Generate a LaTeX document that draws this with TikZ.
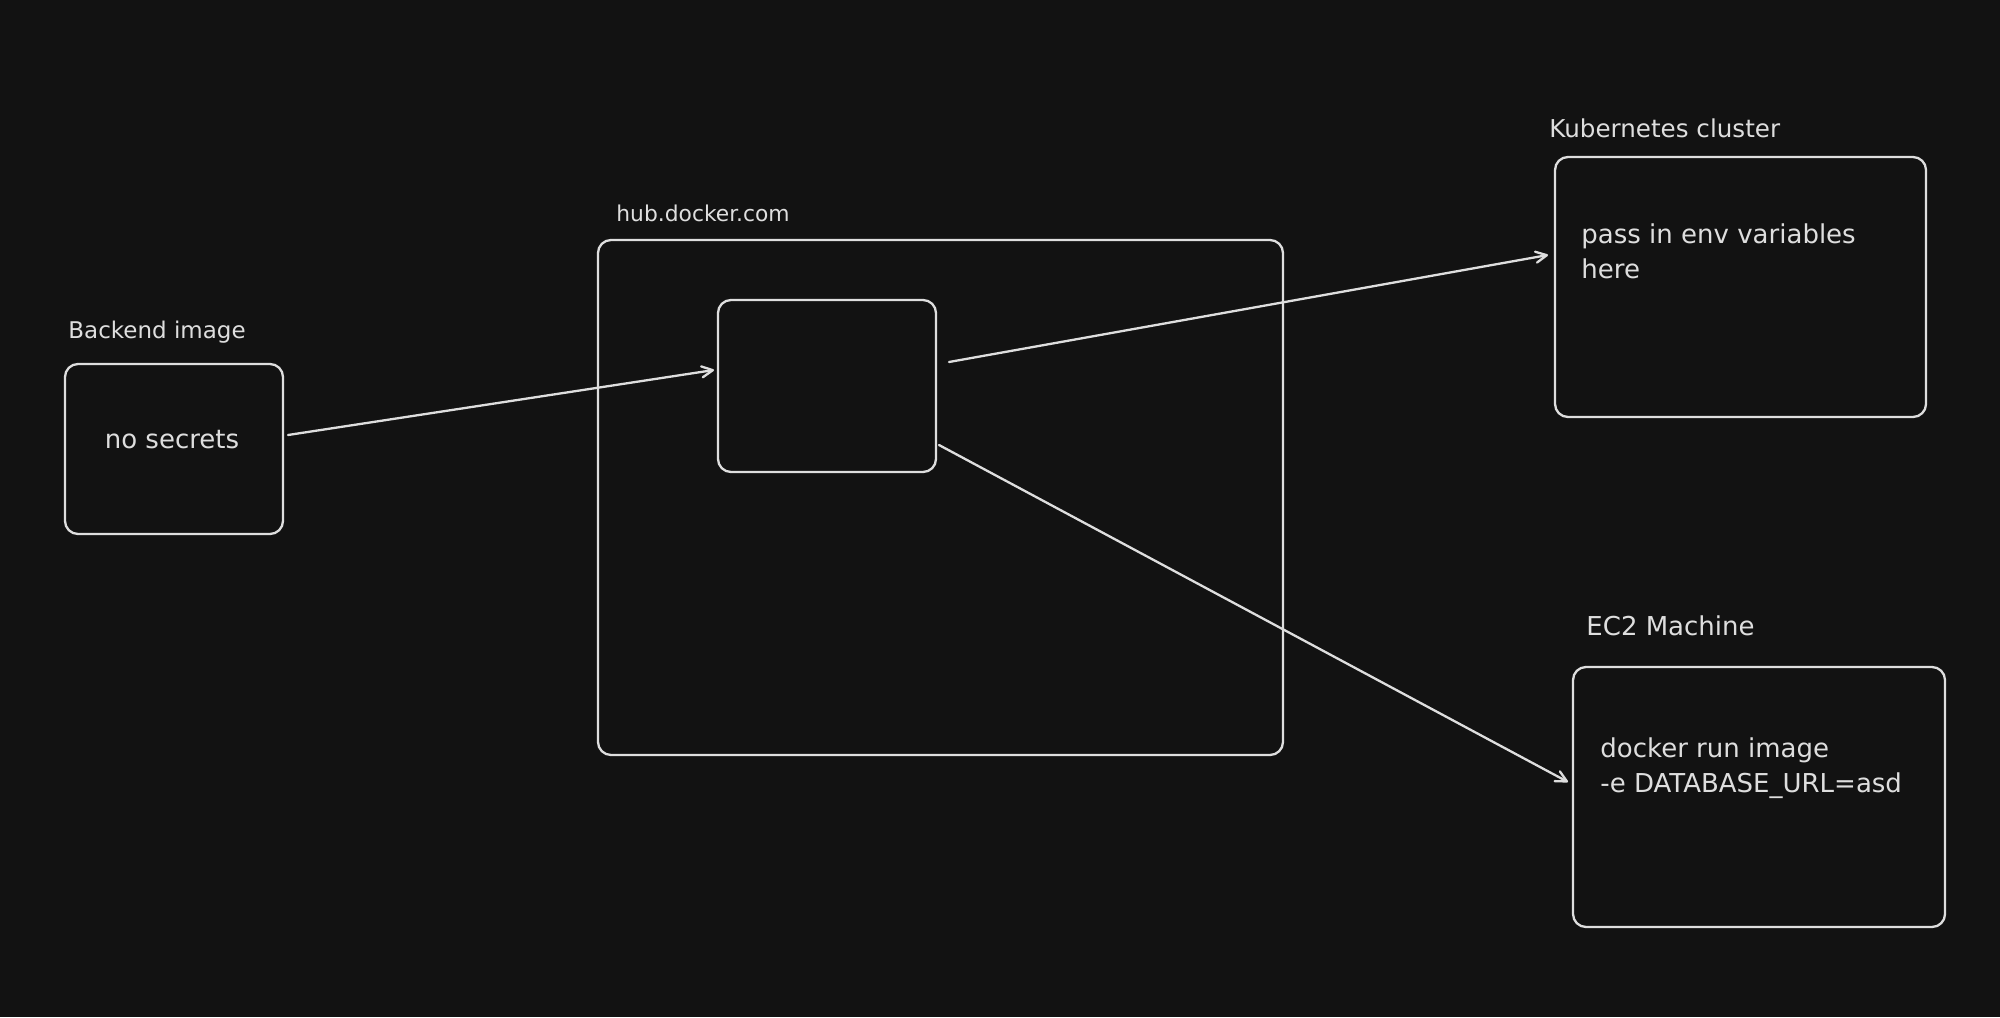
\documentclass[tikz,border=0pt]{standalone}
\usepackage{fontspec}
\setmainfont{DejaVu Sans}
\usetikzlibrary{arrows.meta}
\definecolor{bg}{HTML}{121212}
\definecolor{ink}{HTML}{DEDEDE}
\begin{document}
\begin{tikzpicture}[x=0.5pt,y=-0.5pt,
  box/.style={draw=ink, line width=1.15pt, rounded corners=6.5pt, inner sep=0pt, outer sep=0pt, rectangle},
  lbl/.style={text=ink, font=\fontsize{11.5}{14}\selectfont, inner sep=0pt, anchor=base west},
  body/.style={text=ink, font=\fontsize{13}{17.5}\selectfont, inner sep=0pt, align=left},
  arr/.style={draw=ink, line width=1.15pt, line cap=round, -{Straight Barb[length=5.5pt,width=5.5pt,round]}}]
\fill[bg] (0,0) rectangle (2000,1017);
\useasboundingbox (0,0) rectangle (2000,1017);

% boxes
\node[box, minimum width=109pt, minimum height=85pt] (back) at (174,449) {};
\node[box, minimum width=342.5pt, minimum height=257.5pt] (hub) at (940.5,497.5) {};
\node[box, minimum width=109pt, minimum height=86pt] (img) at (827,386) {};
\node[box, minimum width=185.5pt, minimum height=130pt] (k8s) at (1740.5,287) {};
\node[box, minimum width=186pt, minimum height=130pt] (ec2) at (1759,797) {};

% labels
\node[lbl] (backlbl) at (68,338) {Backend image};
\node[lbl, font=\fontsize{10.9}{14}\selectfont] (hublbl) at (616,221) {hub.docker.com};
\node[lbl, font=\fontsize{12.3}{14}\selectfont] (k8slbl) at (1549,137) {Kubernetes cluster};
\node[lbl, font=\fontsize{13}{14}\selectfont] (ec2lbl) at (1586,635) {EC2 Machine};

% body texts
\node[body, anchor=base] (backtxt) at (172,448) {no secrets};
\node[body, anchor=north west] (k8stxt) at (1581,223) {pass in env variables\\here};
\node[body, anchor=north west] (ec2txt) at (1600,737) {docker run image\\-e DATABASE\_URL=asd};

% connectors
\draw[arr] ([xshift=2.5pt,yshift=7pt]back.east) -- ([xshift=-2pt,yshift=8pt]img.west);
\draw[arr] ([xshift=6.5pt,yshift=12pt]img.east) -- ([xshift=-3.5pt,yshift=16pt]k8s.west);
\draw[arr] ([xshift=1.5pt,yshift=-29.5pt]img.east) -- ([xshift=-2.5pt,yshift=7.5pt]ec2.west);
\end{tikzpicture}
\end{document}
